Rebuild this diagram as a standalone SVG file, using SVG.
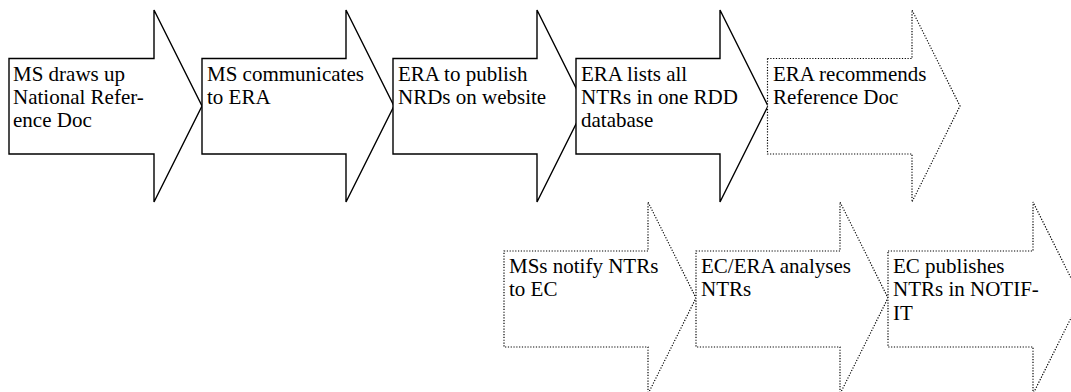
<svg xmlns="http://www.w3.org/2000/svg" width="1071" height="392" viewBox="0 0 1071 392">
<defs>
<style>
.a{fill:#fff;stroke:#000;stroke-width:1.4;stroke-linejoin:miter}
.d{fill:#fff;stroke:#000;stroke-width:1.2;stroke-dasharray:1.2 1.6}
.t{font-family:'Times New Roman','Liberation Serif',serif;font-size:21px;fill:#000}
</style>
</defs>
<rect width="1071" height="392" fill="#fff"/>
<g id="connectors"></g>
<g id="n1"><polygon class="a" points="9,58.5 154,58.5 154,10 202,106 154,202 154,154 9,154"/>
<text class="t" x="13" y="81">MS draws up</text><text class="t" x="13" y="104">National Refer-</text><text class="t" x="13" y="127">ence Doc</text></g>
<g id="n2"><polygon class="a" points="202,58.5 346,58.5 346,10 394,106 346,202 346,154 202,154"/>
<text class="t" x="207" y="81">MS communicates</text><text class="t" x="207" y="104">to ERA</text></g>
<g id="n3"><polygon class="a" points="393,58.5 537,58.5 537,10 585,106 537,202 537,154 393,154"/>
<text class="t" x="398" y="81">ERA to publish</text><text class="t" x="398" y="104">NRDs on website</text></g>
<g id="n4"><polygon class="a" points="576,58.5 720,58.5 720,10 768,106 720,202 720,154 576,154"/>
<text class="t" x="581" y="81">ERA lists all</text><text class="t" x="581" y="104">NTRs in one RDD</text><text class="t" x="581" y="127">database</text></g>
<g id="n5"><polygon class="d" points="767.5,58.5 912,58.5 912,10 960,106 912,202 912,154 767.5,154"/>
<text class="t" x="773" y="81">ERA recommends</text><text class="t" x="773" y="104">Reference Doc</text></g>
<g id="n6"><polygon class="d" points="504,251 648,251 648,202 696,298 648,394 648,347 504,347"/>
<text class="t" x="509" y="273">MSs notify NTRs</text><text class="t" x="509" y="296">to EC</text></g>
<g id="n7"><polygon class="d" points="696,251 840,251 840,202 888,298 840,394 840,347 696,347"/>
<text class="t" x="701" y="273">EC/ERA analyses</text><text class="t" x="701" y="296">NTRs</text></g>
<g id="n8"><polygon class="d" points="888,251 1033,251 1033,202 1081,298 1033,394 1033,347 888,347"/>
<text class="t" x="893" y="273">EC publishes</text><text class="t" x="893" y="296">NTRs in NOTIF-</text><text class="t" x="893" y="320">IT</text></g>
</svg>
